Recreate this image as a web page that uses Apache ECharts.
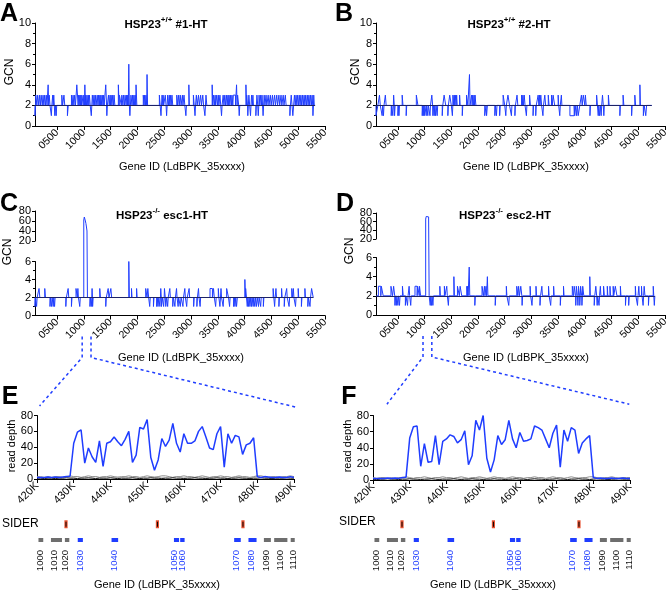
<!DOCTYPE html>
<html>
<head>
<meta charset="utf-8">
<script src="https://cdn.jsdelivr.net/npm/echarts@6.0.0/dist/echarts.min.js"></script>
<style>html,body{margin:0;padding:0;background:#fff;}#chart{width:668px;height:592px;}</style>
</head>
<body>
<div id="chart"></div>
<script>
// ================= DATA =================
const gcnTicks = [500,1000,1500,2000,2500,3000,3500,4000,4500,5000,5500];
const gcnAxisRange = [90, 5500];
const upperGcnTicks = [20, 40, 60, 80];

// runs of copy number that differ from the diploid baseline (2): [startGene, endGene, GCN]
const spanA = [90, 5315];
const runsA = [[90,100,1],[105,125,3],[140,160,3],[175,190,3],[205,225,3],[240,255,3],[270,285,3],[300,315,3],[335,345,4],[355,370,3],[395,405,1],[420,430,3],[440,450,3],[460,470,1],[485,495,1],[590,605,3],[630,645,3],[695,710,1],[770,785,3],[800,815,3],[830,845,3],[870,895,4],[900,915,3],[925,940,3],[945,960,3],[965,990,3],[1000,1015,3],[1020,1030,4],[1035,1050,3],[1060,1075,3],[1085,1095,3],[1105,1120,3],[1140,1150,1],[1160,1175,3],[1190,1205,3],[1215,1230,3],[1250,1265,3],[1275,1290,3],[1300,1310,3],[1320,1335,3],[1345,1360,3],[1370,1380,3],[1410,1425,4],[1430,1440,1],[1460,1475,3],[1490,1500,3],[1510,1525,3],[1540,1555,3],[1565,1580,3],[1645,1660,4],[1665,1700,3],[1710,1730,3],[1740,1760,3],[1770,1790,3],[1800,1815,3],[1820,1830,3],[1840,1850,6],[1860,1870,1],[1880,1900,3],[1910,1925,3],[1935,1950,3],[1960,1970,3],[1975,1990,4],[2110,2125,3],[2135,2150,3],[2160,2175,3],[2180,2190,5],[2410,2425,3],[2440,2450,1],[2460,2475,3],[2480,2490,3],[2520,2535,3],[2545,2555,1],[2565,2580,3],[2595,2605,3],[2615,2630,3],[2645,2660,3],[2735,2750,3],[2770,2780,3],[2800,2815,3],[2840,2850,3],[2870,2885,3],[2905,2915,1],[2960,2970,4],[3045,3060,3],[3075,3085,1],[3100,3115,3],[3140,3155,3],[3180,3195,3],[3220,3235,3],[3260,3270,1],[3280,3295,3],[3395,3405,4],[3420,3435,3],[3450,3460,3],[3480,3495,3],[3510,3520,3],[3540,3555,3],[3570,3580,1],[3600,3615,3],[3630,3645,3],[3660,3675,3],[3690,3700,3],[3710,3725,3],[3740,3755,3],[3765,3780,3],[3790,3830,3],[3850,3860,4],[3870,3890,3],[3900,3910,1],[4025,4035,4],[4040,4055,3],[4060,4070,1],[4080,4095,3],[4110,4120,1],[4130,4145,3],[4155,4165,3],[4210,4220,1],[4230,4245,3],[4255,4265,1],[4270,4285,3],[4300,4315,3],[4325,4335,3],[4345,4355,1],[4365,4380,3],[4400,4415,3],[4440,4455,3],[4480,4495,3],[4520,4535,3],[4560,4575,3],[4600,4615,3],[4640,4655,3],[4680,4695,3],[4720,4735,3],[4760,4775,3],[4845,4855,1],[4870,4885,3],[4900,4915,1],[4930,4945,3],[4960,4975,3],[4990,5005,3],[5020,5035,3],[5050,5065,3],[5080,5095,3],[5110,5125,3],[5140,5155,3],[5170,5185,3],[5200,5215,3],[5230,5245,3],[5260,5270,3],[5275,5285,1],[5290,5300,3]];

const spanB = [90, 5252];
const runsB = [[90,125,1],[155,170,3],[205,215,1],[230,240,1],[265,280,3],[375,385,1],[405,415,1],[420,432,3],[438,448,1],[500,510,1],[520,530,1],[580,595,3],[655,665,1],[845,875,3],[955,965,1],[975,985,1],[995,1005,1],[1030,1040,1],[1060,1070,1],[1100,1110,1],[1135,1150,3],[1155,1165,1],[1180,1190,1],[1205,1215,1],[1235,1245,1],[1330,1340,1],[1365,1395,3],[1435,1445,1],[1470,1500,3],[1520,1528,1],[1530,1545,3],[1555,1565,3],[1575,1590,3],[1600,1610,3],[1655,1665,3],[1705,1715,1],[1785,1810,3],[1840,1850,5],[1880,1890,3],[1900,1915,3],[1925,1935,3],[1945,1960,3],[2125,2150,1],[2160,2175,1],[2315,2325,1],[2345,2355,1],[2405,2415,1],[2470,2500,3],[2520,2530,1],[2560,2590,3],[2625,2635,1],[2690,2700,1],[2730,2745,3],[2815,2830,3],[2840,2850,3],[2865,2880,3],[2905,2915,1],[2965,2980,3],[3030,3040,1],[3080,3090,1],[3125,3140,3],[3150,3160,3],[3175,3190,3],[3215,3225,1],[3250,3265,3],[3315,3330,3],[3375,3390,3],[3405,3435,3],[3500,3510,3],[3530,3540,1],[3560,3570,3],[3720,3800,1],[3810,3830,1],[3845,3860,1],[3875,3905,1],[3935,3950,3],[3970,4000,3],[4010,4025,3],[4095,4105,1],[4220,4235,3],[4250,4260,1],[4275,4290,1],[4305,4315,1],[4330,4345,3],[4355,4365,1],[4440,4455,3],[4655,4665,1],[4715,4730,3],[4875,4885,1],[4935,4950,3],[5030,5040,4],[5095,5110,1],[5140,5155,1]];

const spanC = [90, 5284];
const runsC = [[90,100,1],[120,130,1],[165,180,3],[272,285,3],[370,380,1],[400,410,1],[430,440,1],[455,465,1],[665,675,1],[708,720,3],[770,780,1],[855,880,3],[890,900,3],[925,935,1],[1000,1010,62],[1010,1020,68],[1020,1030,65],[1030,1040,60],[1040,1050,55],[1050,1060,48],[1060,1068,40],[1115,1125,1],[1140,1150,1],[1155,1162,3],[1165,1175,1],[1298,1310,3],[1410,1420,1],[1455,1470,3],[1505,1520,3],[1840,1850,6],[1890,1900,3],[1985,1995,3],[2155,2180,3],[2195,2210,3],[2230,2240,1],[2300,2310,1],[2360,2370,1],[2385,2400,1],[2420,2430,1],[2436,2446,3],[2450,2465,1],[2490,2500,1],[2505,2520,3],[2530,2545,1],[2565,2575,1],[2605,2615,3],[2660,2670,1],[2700,2710,1],[2730,2740,3],[2760,2770,1],[2800,2815,1],[2850,2860,1],[2885,2895,3],[2920,2930,1],[2965,2975,3],[3050,3060,1],[3110,3120,1],[3140,3150,3],[3170,3180,1],[3355,3400,3],[3420,3435,3],[3460,3470,1],[3510,3520,3],[3540,3550,1],[3560,3570,3],[3600,3610,1],[3665,3700,3],[3720,3730,1],[3795,3810,1],[3820,3835,1],[3850,3865,1],[4005,4015,4],[4020,4035,3],[4050,4060,1],[4075,4085,1],[4100,4115,1],[4130,4140,1],[4160,4170,1],[4190,4200,1],[4220,4235,1],[4260,4270,1],[4300,4310,1],[4350,4360,1],[4532,4545,3],[4560,4570,1],[4585,4595,3],[4640,4650,1],[4690,4700,3],[4740,4750,1],[4785,4795,3],[4830,4840,1],[4880,4895,3],[4910,4920,3],[4950,4960,1],[5000,5010,3],[5060,5070,1],[5125,5135,3],[5180,5190,1],[5220,5230,1],[5250,5280,3]];

const spanD = [95, 5310];
const runsD = [[135,180,3],[190,225,3],[370,400,3],[420,440,3],[445,455,1],[470,480,1],[500,510,1],[530,540,1],[585,600,3],[640,650,1],[680,690,1],[710,720,3],[740,750,1],[820,860,3],[870,900,3],[905,925,3],[1020,1030,66],[1030,1045,72],[1045,1060,70],[1060,1075,71],[1075,1085,68],[1105,1115,1],[1130,1140,1],[1155,1165,1],[1285,1295,3],[1370,1380,3],[1415,1425,3],[1445,1455,1],[1548,1558,4],[1615,1650,3],[1665,1695,3],[1790,1800,3],[1805,1815,3],[1835,1845,5],[1940,1950,1],[2075,2100,3],[2120,2130,3],[2150,2160,3],[2175,2185,4],[2322,2332,1],[2530,2540,3],[2575,2585,1],[2725,2745,3],[2760,2775,3],[2800,2820,3],[2825,2835,1],[2975,2985,3],[3010,3020,1],[3085,3095,3],[3160,3170,1],[3195,3205,3],[3320,3330,3],[3360,3370,1],[3415,3425,3],[3540,3550,1],[3600,3610,3],[3765,3790,3],[3800,3825,3],[3830,3838,1],[3840,3860,3],[3870,3878,1],[3880,3900,3],[3905,3915,1],[3920,3940,3],[3945,3955,1],[3960,3980,3],[4092,4102,4],[4175,4185,1],[4205,4220,3],[4230,4240,1],[4265,4275,1],[4290,4300,3],[4350,4365,3],[4420,4430,3],[4470,4480,3],[4530,4540,3],[4570,4600,3],[4665,4675,3],[4760,4770,1],[4820,4830,1],[4945,4955,3],[4985,4995,1],[5010,5020,3],[5060,5070,3],[5090,5100,1],[5110,5125,3],[5190,5200,1],[5280,5300,3],[5300,5310,1]];

// zoomed genomic window (read depth), positions in kb
const posKb = [420,421,422,423,424,425,426,427,428,429,430,431,432,433,434,435,436,437,438,439,440,441,442,443,444,445,446,447,448,449,450,451,452,453,454,455,456,457,458,459,460,461,462,463,464,465,466,467,468,469,470,471,472,473,474,475,476,477,478,479,480,481,482,483,484,485,486,487,488,489,490];
const depthE = [2,2,2,2.5,2,2.5,2,2.5,3,3.5, 45,59,62,20,39,28,21,48,16,45, 47,53,47,42,50,60,21,30,65,63, 75,27,11,24,51,41,49,70,45,34, 57,45,45,48,60,66,53,39,37,57, 66,15,57,45,55,53,31,43,45,52, 3,2,3,2.5,2,2,2.5,2,2,3, 2];
const ctrlGreyE = [3,3,2,3,2,3,3,2,3,4, 3,3,2,3,4,3,3,2,3,3, 4,3,2,3,3,4,3,3,2,3, 4,3,2,3,4,4,3,2,3,3, 4,3,3,2,3,4,3,2,3,3, 4,3,3,2,3,4,3,3,2,3, 4,4,3,2,3,3,2,3,3,4, 3];
const ctrlLightE = [2,1,2,2,1,2,2,1,2,2, 2,3,2,2,1,2,3,2,2,1, 2,2,3,2,1,2,2,3,2,2, 1,2,3,2,2,2,1,2,3,2, 2,1,2,2,3,2,2,1,2,3, 2,2,1,2,2,3,2,1,2,2, 3,2,2,1,2,2,3,2,1,2, 2];
const ctrlBlackE = [1,1,0.5,1,1,0.5,1,1,1.5,1, 1,0.5,1,1,1.5,1,0.5,1,1,1, 1.5,1,0.5,1,1,1,1.5,1,0.5,1, 1,1.5,1,1,0.5,1,1,1.5,1,1, 0.5,1,1,1.5,1,1,0.5,1,1,1.5, 1,1,0.5,1,1,1.5,1,1,0.5,1, 1,1.5,1,1,0.5,1,1,1,1.5,1, 1];
const depthF = [2,2,2,2,2.5,2,2.5,2,3,3.5, 52,66,67,17,45,22,23,55,19,48, 51,56,54,46,50,61,19,30,74,62, 80,27,10,25,55,44,50,74,51,40, 59,48,49,51,67,65,62,51,40,58, 68,16,62,48,65,62,33,46,51,55, 3,2,2.5,2,2,2.5,2,2,2.5,2, 2];
const ctrlGreyF = [3,2,3,3,2,3,2,3,3,4, 3,2,3,3,4,3,2,3,3,4, 3,3,2,3,4,3,2,3,3,4, 3,2,3,4,3,3,2,3,4,3, 3,2,3,3,4,3,3,2,3,4, 3,3,2,3,4,3,2,3,3,4, 4,3,2,3,3,4,3,2,3,3, 3];
const ctrlLightF = [2,2,1,2,2,1,2,2,2,1, 2,2,3,2,1,2,2,3,2,2, 1,2,2,3,2,2,1,2,2,3, 2,2,1,2,3,2,2,1,2,2, 3,2,1,2,2,2,3,2,1,2, 2,3,2,1,2,2,3,2,2,1, 2,3,2,2,1,2,2,3,2,2, 2];
const ctrlBlackF = [1,0.5,1,1,1.5,1,1,0.5,1,1, 1.5,1,1,0.5,1,1,1.5,1,0.5,1, 1,1,1.5,1,0.5,1,1,1.5,1,1, 0.5,1,1,1.5,1,1,0.5,1,1,1.5, 1,1,0.5,1,1.5,1,1,0.5,1,1, 1.5,1,1,0.5,1,1,1.5,1,1,0.5, 1,1.5,1,1,0.5,1,1,1.5,1,1, 1];

const siderKb = [427.9, 452.8, 476.1];
const geneIds = ['1000','1010','1020','1030','1040','1050','1060','1070','1080','1090','1100','1110'];
const geneStartKb = [420.4, 423.8, 427.6, 431.1, 440.3, 457.3, 459.0, 473.7, 477.6, 481.8, 484.6, 489.1];
const geneEndKb   = [421.7, 426.8, 428.8, 432.5, 442.1, 458.7, 460.2, 475.5, 479.8, 483.7, 488.2, 490.2];
const geneLabelKb = [421.0, 424.6, 427.6, 431.7, 441.2, 457.5, 459.5, 474.2, 478.5, 482.6, 486.2, 489.8];
const amplifiedGenes = ['1030','1040','1050','1060','1070','1080'];
const zoomBracketGenes = [970, 1135];

// ================= STYLE / BUILD =================
const FONT = "'Liberation Sans',Arial,sans-serif";
const BOLD = "'Liberation Sans',Arial,sans-serif";
const BLUE = '#1f3dff';
const NAVY = '#1c2266';
const chart = echarts.init(document.getElementById('chart'), null, {renderer: 'canvas'});

const grids = [
  {left: 35, top: 23, width: 290, height: 103},      // 0 A
  {left: 376, top: 23, width: 289, height: 103},     // 1 B
  {left: 35, top: 261.5, width: 290, height: 54},    // 2 C lower
  {left: 35, top: 211, width: 290, height: 30},      // 3 C upper
  {left: 376, top: 257.5, width: 289, height: 57.5}, // 4 D lower
  {left: 376, top: 213, width: 289, height: 26},     // 5 D upper
  {left: 37, top: 415.5, width: 257, height: 63.5},  // 6 E
  {left: 373, top: 415.5, width: 257, height: 64.5}, // 7 F
  {left: 37, top: 516, width: 257, height: 30},      // 8 E track
  {left: 373, top: 516, width: 257, height: 30}      // 9 F track
].map(g => Object.assign({outerBoundsMode: 'none', containLabel: false}, g));

const axisLine = {show: true, onZero: false, lineStyle: {color: '#000', width: 1}};
function gcnX(gridIndex, show) {
  return {type: 'value', gridIndex, min: gcnAxisRange[0], max: gcnAxisRange[1], show,
    axisLine, splitLine: {show: false},
    axisTick: {show: true, customValues: gcnTicks, length: 4, lineStyle: {color: '#000'}},
    axisLabel: {customValues: gcnTicks, rotate: 45, margin: 5, color: '#000', fontSize: 10.5, fontFamily: FONT,
      showMinLabel: true, showMaxLabel: true, hideOverlap: false,
      formatter: v => String(v).padStart(4, '0')}};
}
function kbX(gridIndex, show) {
  return {type: 'value', gridIndex, min: 420, max: 490, interval: 10, show,
    axisLine, splitLine: {show: false},
    axisTick: {show: true, length: 4, lineStyle: {color: '#000'}},
    axisLabel: {rotate: 45, margin: 5, color: '#000', fontSize: 11, fontFamily: FONT,
      showMinLabel: true, showMaxLabel: true, hideOverlap: false, formatter: v => v + 'K'}};
}
function valY(gridIndex, min, max, interval, minor, show = true, labels = true) {
  return {type: 'value', gridIndex, min, max, interval, show,
    axisLine, splitLine: {show: false},
    axisTick: {show: true, length: 3, lineStyle: {color: '#000'}},
    minorTick: {show: !!minor, splitNumber: 2, length: 2, lineStyle: {color: '#000'}},
    minorSplitLine: {show: false},
    axisLabel: {show: labels, margin: 4, color: '#000', fontSize: 11, fontFamily: FONT,
      showMinLabel: true, showMaxLabel: true, hideOverlap: false}};
}

const xAxis = [gcnX(0, true), gcnX(1, true), gcnX(2, true), gcnX(3, false), gcnX(4, true), gcnX(5, false),
  kbX(6, true), kbX(7, true), kbX(8, false), kbX(9, false)];
const yAxis = [valY(0, 0, 10, 2, true), valY(1, 0, 10, 2, true), valY(2, 0, 6, 2, true), valY(3, 20, 80, 20, false, true, false),
  valY(4, 0, 6, 2, true), valY(5, 20, 80, 20, false, true, false), valY(6, 0, 80, 20, false), valY(7, 0, 80, 20, false),
  valY(8, 0, 2, 1, false, false), valY(9, 0, 2, 1, false, false)];

chart.setOption({animation: false, grid: grids, xAxis, yAxis, series: []});

function runsToLine(span, runs, mapY) {
  const r = runs.slice().sort((a, b) => a[0] - b[0]);
  const pts = [[span[0], mapY(2)]];
  r.forEach(([s, e, v], i) => {
    if (i === 0 || r[i - 1][1] !== s) pts.push([s, mapY(2)]);
    pts.push([s, mapY(v)], [e, mapY(v)]);
    if (i === r.length - 1 || r[i + 1][0] !== e) pts.push([e, mapY(2)]);
  });
  pts.push([span[1], mapY(2)]);
  return pts;
}
// broken axis: values above the lower panel are placed through the upper axis scale
function brokenMap(lowY, upY) {
  return v => {
    if (v <= 6) return v;
    const py = chart.convertToPixel({yAxisIndex: upY}, v);
    return chart.convertFromPixel({yAxisIndex: lowY}, py);
  };
}
function gcnSeries(idx, span, runs, mapY) {
  return {type: 'line', xAxisIndex: idx, yAxisIndex: idx, data: runsToLine(span, runs, mapY),
    symbol: 'none', clip: false, lineStyle: {color: BLUE, width: 1}, z: 2,
    markLine: {silent: true, symbol: 'none', label: {show: false}, lineStyle: {color: NAVY, width: 1.2, type: 'solid'},
      data: [[{coord: [span[0], mapY(2)]}, {coord: [span[1], mapY(2)]}]]}};
}
const ident = v => v;
function depthLine(idx, vals, color, width, z) {
  return {type: 'line', xAxisIndex: idx, yAxisIndex: idx, data: posKb.map((k, i) => [k, vals[i]]),
    symbol: 'none', lineStyle: {color, width}, z};
}
const SIDER_ROW = 1.45, GENE_ROW = 0.4;
function siderSeries(idx) {
  return {type: 'custom', xAxisIndex: idx, yAxisIndex: idx, clip: false, data: siderKb.map(k => [k, SIDER_ROW]),
    renderItem(params, api) {
      const p = api.coord([api.value(0), api.value(1)]);
      return {type: 'group', children: [
        {type: 'rect', shape: {x: p[0] - 1.6, y: p[1] - 4, width: 3.2, height: 8}, style: {fill: '#e8502f'}},
        {type: 'rect', shape: {x: p[0] - 0.5, y: p[1] - 2.5, width: 1, height: 5}, style: {fill: '#000'}}]};
    }};
}
function geneSeries(idx) {
  return {type: 'custom', xAxisIndex: idx, yAxisIndex: idx, clip: false,
    data: geneIds.map((id, i) => [geneStartKb[i], GENE_ROW, geneEndKb[i], i, geneLabelKb[i]]),
    encode: {x: [0, 2], y: 1},
    renderItem(params, api) {
      const i = api.value(3);
      const id = geneIds[i];
      const amp = amplifiedGenes.includes(id);
      const p0 = api.coord([api.value(0), api.value(1)]);
      const p1 = api.coord([api.value(2), api.value(1)]);
      const pl = api.coord([api.value(4), api.value(1)]);
      return {type: 'group', children: [
        {type: 'rect', shape: {x: p0[0], y: p0[1] - 2, width: Math.max(p1[0] - p0[0], 2), height: 4},
          style: {fill: amp ? BLUE : '#6e6e6e'}},
        {type: 'text', x: pl[0], y: p0[1] + 10, rotation: Math.PI / 2,
          style: {text: id, fill: amp ? BLUE : '#111', font: `9.5px ${FONT}`, align: 'right', verticalAlign: 'middle',
            textAlign: 'right', textVerticalAlign: 'middle'}}]};
    }};
}

const series = [
  gcnSeries(0, spanA, runsA, ident),
  gcnSeries(1, spanB, runsB, ident),
  gcnSeries(2, spanC, runsC, brokenMap(2, 3)),
  gcnSeries(4, spanD, runsD, brokenMap(4, 5)),
  depthLine(6, ctrlLightE, '#c4c4c4', 1, 1), depthLine(6, ctrlGreyE, '#8f8f8f', 1, 1), depthLine(6, ctrlBlackE, '#222', 1, 1),
  depthLine(6, depthE, BLUE, 1.5, 3),
  depthLine(7, ctrlLightF, '#c4c4c4', 1, 1), depthLine(7, ctrlGreyF, '#8f8f8f', 1, 1), depthLine(7, ctrlBlackF, '#222', 1, 1),
  depthLine(7, depthF, BLUE, 1.5, 3),
  siderSeries(8), geneSeries(8), siderSeries(9), geneSeries(9)
];

// ---------- texts & connectors ----------
function txt(x, y, text, font, opts = {}) {
  return Object.assign({type: 'text', x, y, silent: true,
    style: Object.assign({text, font, fill: '#000', align: 'center', verticalAlign: 'middle',
      textAlign: 'center', textVerticalAlign: 'middle'}, opts.style || {})}, opts.el || {});
}
function title(x, y, pre, sup, post) {
  return {type: 'text', x, y, silent: true, style: {
    text: `{b|${pre}}{s|${sup}}{b|${post}}`, align: 'center', verticalAlign: 'middle', textAlign: 'center', textVerticalAlign: 'middle',
    rich: {b: {fontSize: 11.5, fontWeight: 'bold', fontFamily: FONT, lineHeight: 18, fill: '#000', color: '#000'},
           s: {fontSize: 8, fontWeight: 'bold', fontFamily: FONT, lineHeight: 10, verticalAlign: 'top', fill: '#000', color: '#000'}}}};
}
const LET = `bold 25px ${BOLD}`;
const LAB = `11px ${FONT}`;
const rot = {el: {rotation: Math.PI / 2}};
const graphic = [
  txt(9, 14, 'A', LET), txt(344, 14, 'B', LET), txt(9, 204, 'C', LET), txt(345, 204, 'D', LET),
  txt(10, 397, 'E', LET), txt(349, 397, 'F', LET),
  title(166, 25, 'HSP23', '+/+', ' #1-HT'), title(509, 25, 'HSP23', '+/+', ' #2-HT'),
  title(162, 216, 'HSP23', '-/-', ' esc1-HT'), title(505, 216, 'HSP23', '-/-', ' esc2-HT'),
  txt(10, 72, 'GCN', `12px ${FONT}`, rot), txt(356, 72, 'GCN', `12px ${FONT}`, rot),
  txt(8, 252, 'GCN', `12px ${FONT}`, rot), txt(350, 251, 'GCN', `12px ${FONT}`, rot),
  txt(12, 446, 'read depth', LAB, rot), txt(348, 446, 'read depth', LAB, rot),
  txt(182, 167, 'Gene ID (LdBPK_35xxxx)', LAB), txt(526, 167, 'Gene ID (LdBPK_35xxxx)', LAB),
  txt(181, 358, 'Gene ID (LdBPK_35xxxx)', LAB), txt(526, 358, 'Gene ID (LdBPK_35xxxx)', LAB),
  txt(157, 585, 'Gene ID (LdBPK_35xxxx)', LAB), txt(493, 585, 'Gene ID (LdBPK_35xxxx)', LAB),
  txt(2, 524, 'SIDER', `12px ${FONT}`, {style: {align: 'left', textAlign: 'left'}}),
  txt(339, 522, 'SIDER', `12px ${FONT}`, {style: {align: 'left', textAlign: 'left'}})
];
// tick labels of the upper (broken) y axes, positioned through the axis scale
[3, 5].forEach(yi => {
  const left = grids[yi].left;
  upperGcnTicks.forEach(v => {
    const py = chart.convertToPixel({yAxisIndex: yi}, v);
    graphic.push(txt(left - 4, py, String(v), `11px ${FONT}`, {style: {align: 'right', textAlign: 'right'}}));
  });
});
function connector(srcX, srcY, dstX, dstY, leftEnd, rightEnd) {
  const yAx0 = chart.convertToPixel({yAxisIndex: srcY}, 0);
  const xa = chart.convertToPixel({xAxisIndex: srcX}, zoomBracketGenes[0]);
  const xb = chart.convertToPixel({xAxisIndex: srcX}, zoomBracketGenes[1]);
  const top = yAx0 + 21, bot = yAx0 + 42;
  const l = chart.convertToPixel({gridIndex: dstX}, leftEnd);
  const r = chart.convertToPixel({gridIndex: dstX}, rightEnd);
  const st = {stroke: BLUE, lineWidth: 1.5, lineDash: [3, 3], fill: null};
  return [
    {type: 'polyline', silent: true, shape: {points: [[xa, top], [xa, bot], l]}, style: st},
    {type: 'polyline', silent: true, shape: {points: [[xb, top], [xb, bot], r]}, style: st}
  ];
}
graphic.push(...connector(2, 2, 6, 6, [420.7, 92], [491, 90]));
graphic.push(...connector(4, 4, 7, 7, [423.8, 94], [489.8, 94]));

chart.setOption({series, graphic});
</script>
</body>
</html>
